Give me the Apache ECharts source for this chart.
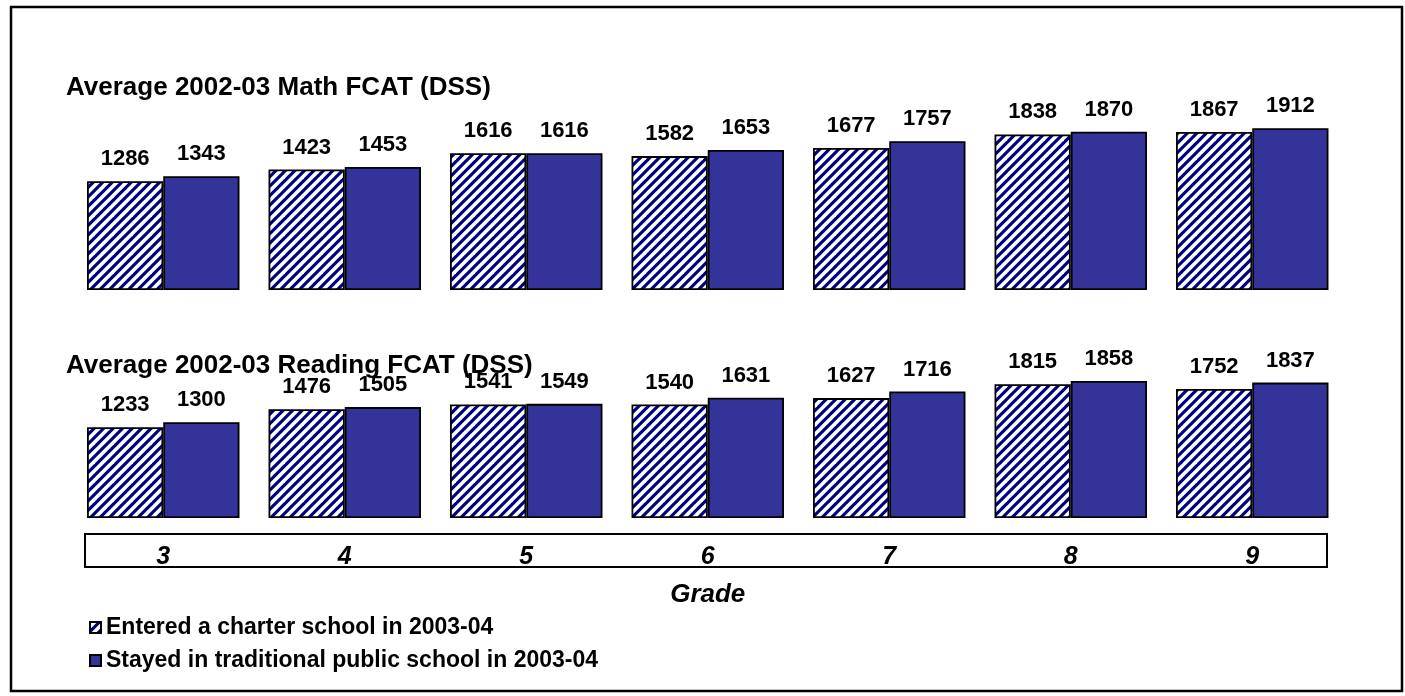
<!DOCTYPE html>
<html>
<head>
<meta charset="utf-8">
<script src="https://cdn.jsdelivr.net/npm/echarts@6/dist/echarts.min.js"></script>
<style>
  html, body { margin: 0; padding: 0; background: #fff; }
  #chart { width: 1405px; height: 696px; }
</style>
</head>
<body>
<div id="chart"></div>
<script>
// Grade levels and average developmental scale scores (DSS)
const grades = ['3', '4', '5', '6', '7', '8', '9'];
const mathCharter = [1286, 1423, 1616, 1582, 1677, 1838, 1867];
const mathStayed = [1343, 1453, 1616, 1653, 1757, 1870, 1912];
const readCharter = [1233, 1476, 1541, 1540, 1627, 1815, 1752];
const readStayed = [1300, 1505, 1549, 1631, 1716, 1858, 1837];

const charterName = 'Entered a charter school in 2003-04';
const stayedName = 'Stayed in traditional public school in 2003-04';
const mathTitle = 'Average 2002-03 Math FCAT (DSS)';
const readTitle = 'Average 2002-03 Reading FCAT (DSS)';

const FONT = 'Liberation Sans, Arial, Helvetica, sans-serif';
const NAVY = '#000080';
const BLUE = '#333399';

// Diagonal "/" hatch tile: navy stripes on white
function hatchPattern() {
  const size = 19, step = 9.5;
  const c = document.createElement('canvas');
  c.width = size; c.height = size;
  const g = c.getContext('2d');
  g.fillStyle = '#ffffff';
  g.fillRect(0, 0, size, size);
  g.strokeStyle = NAVY;
  g.lineWidth = 3.1;
  for (let k = -2; k <= 6; k++) {
    const s = k * step;
    g.beginPath();
    g.moveTo(s + 6, -6);
    g.lineTo(s - size - 6, size + 6);
    g.stroke();
  }
  return { image: c, repeat: 'repeat' };
}
const hatch = hatchPattern();

const barLabel = {
  show: true,
  position: 'top',
  distance: 11,
  color: '#000',
  fontFamily: FONT,
  fontWeight: 'bold',
  fontSize: 22
};

function barSeries(name, data, idx, fill) {
  return {
    type: 'bar',
    name: name,
    data: data,
    xAxisIndex: idx,
    yAxisIndex: idx,
    barGap: '0%',
    barCategoryGap: '16%',
    itemStyle: { color: fill, borderColor: '#000', borderWidth: 1.8 },
    label: barLabel,
    emphasis: { disabled: true },
    animation: false
  };
}

const chart = echarts.init(document.getElementById('chart'), null, { renderer: 'canvas' });

const hiddenX = {
  type: 'category',
  data: grades,
  axisLine: { show: false },
  axisTick: { show: false },
  axisLabel: { show: false },
  splitLine: { show: false }
};

const titleStyle = { fontFamily: FONT, fontWeight: 'bold', fontSize: 26, lineHeight: 26, color: '#000' };

chart.setOption({
  backgroundColor: '#ffffff',
  animation: false,
  title: [
    { text: mathTitle, left: 66, top: 75, padding: 0, textStyle: titleStyle },
    { text: readTitle, left: 66, top: 353, padding: 0, textStyle: titleStyle }
  ],
  legend: {
    orient: 'vertical',
    left: 89,
    top: 616,
    padding: 0,
    itemGap: 10,
    itemWidth: 11,
    itemHeight: 11,
    icon: 'rect',
    selectedMode: false,
    data: [charterName, stayedName],
    textStyle: { fontFamily: FONT, fontWeight: 'bold', fontSize: 23, color: '#000' }
  },
  grid: [
    { left: 72.5, width: 1270.5, top: 120.7, height: 169.3 },
    { left: 72.5, width: 1270.5, top: 370.6, height: 147.4 }
  ],
  xAxis: [
    Object.assign({ gridIndex: 0 }, hiddenX),
    {
      gridIndex: 1,
      type: 'category',
      data: grades,
      axisLine: { show: false },
      axisTick: { show: false },
      splitLine: { show: false },
      axisLabel: {
        margin: 27,
        color: '#000',
        fontFamily: FONT,
        fontWeight: 'bold',
        fontStyle: 'italic',
        fontSize: 25
      },
      name: 'Grade',
      nameLocation: 'middle',
      nameGap: 64,
      nameTextStyle: {
        color: '#000',
        fontFamily: FONT,
        fontWeight: 'bold',
        fontStyle: 'italic',
        fontSize: 26
      }
    }
  ],
  yAxis: [
    { gridIndex: 0, type: 'value', min: 0, max: 2000, show: false, splitLine: { show: false } },
    { gridIndex: 1, type: 'value', min: 0, max: 2000, show: false, splitLine: { show: false } }
  ],
  series: [
    barSeries(charterName, mathCharter, 0, hatch),
    barSeries(stayedName, mathStayed, 0, BLUE),
    barSeries(charterName, readCharter, 1, hatch),
    barSeries(stayedName, readStayed, 1, BLUE)
  ],
  graphic: [
    {
      type: 'rect',
      silent: true,
      shape: { x: 11, y: 7, width: 1391, height: 684 },
      style: { fill: 'none', stroke: '#000', lineWidth: 2.5 }
    },
    {
      type: 'rect',
      silent: true,
      shape: { x: 85, y: 534, width: 1242, height: 33 },
      style: { fill: 'none', stroke: '#000', lineWidth: 2 }
    }
  ]
});
</script>
</body>
</html>
